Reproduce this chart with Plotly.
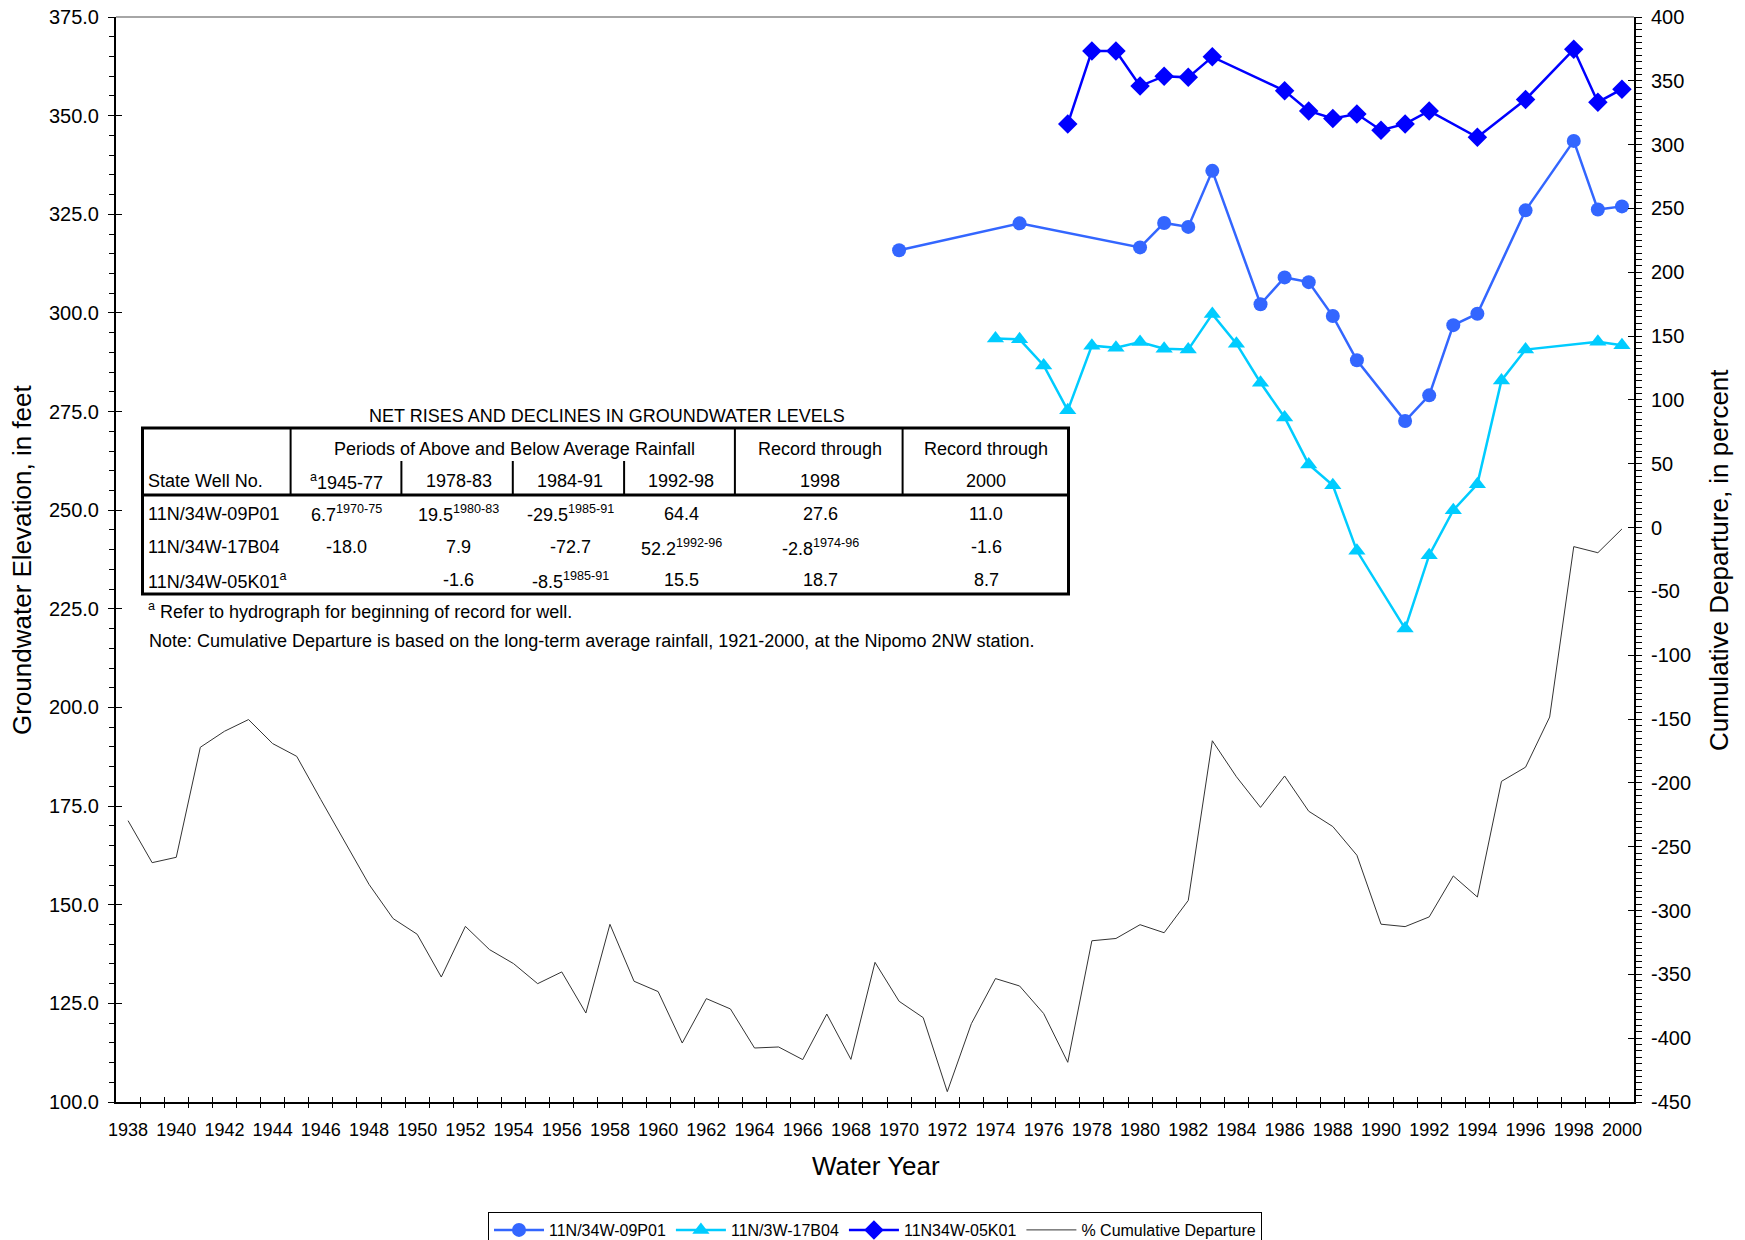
import plotly.graph_objects as go

# ---------------- data ----------------
years_cd = list(range(1938, 2001))
cum_departure = [-229.6, -262.5, -258.3, -172.1, -159.6, -150.4, -169.2, -179.2, -213.1, -246.3,
                 -279.5, -306.3, -318.6, -352.1, -312.4, -330.6, -341.6, -357.3, -348.1, -380.3,
                 -310.8, -355.4, -363.5, -403.8, -369.0, -377.1, -407.7, -406.9, -416.8, -381.1,
                 -416.6, -340.6, -371.1, -383.9, -441.9, -388.6, -353.3, -359.1, -380.7, -418.9,
                 -323.7, -321.9, -311.1, -317.4, -292.1, -167.0, -195.2, -219.2, -194.6, -222.2,
                 -234.2, -256.7, -310.7, -312.6, -305.0, -272.9, -289.4, -198.8, -187.7, -148.4,
                 -14.9, -19.7, -1.1]

x_09P01 = [1970, 1975, 1980, 1981, 1982, 1983, 1985, 1986, 1987, 1988, 1989, 1991, 1992, 1993,
           1994, 1996, 1998, 1999, 2000]
y_09P01 = [315.9, 322.7, 316.6, 322.8, 321.8, 336.0, 302.2, 309.0, 307.8, 299.2, 288.0, 272.6,
           279.1, 296.9, 299.8, 326.0, 343.6, 326.2, 327.0]

x_17B04 = [1974, 1975, 1976, 1977, 1978, 1979, 1980, 1981, 1982, 1983, 1984, 1985, 1986, 1987,
           1988, 1989, 1991, 1992, 1993, 1994, 1995, 1996, 1999, 2000]
y_17B04 = [293.5, 293.3, 286.7, 275.3, 291.7, 291.2, 292.6, 290.9, 290.7, 299.7, 292.2, 282.3,
           273.5, 261.6, 256.3, 239.7, 220.0, 238.6, 250.0, 256.6, 282.9, 290.7, 292.7, 291.8]

x_05K01 = [1977, 1978, 1979, 1980, 1981, 1982, 1983, 1986, 1987, 1988, 1989, 1990, 1991, 1992,
           1994, 1996, 1998, 1999, 2000]
y_05K01 = [347.9, 366.4, 366.4, 357.5, 360.0, 359.7, 364.9, 356.3, 351.2, 349.3, 350.4, 346.3,
           347.9, 351.2, 344.5, 354.1, 366.8, 353.4, 356.7]

series_names = ["11N/34W-09P01", "11N/3W-17B04", "11N34W-05K01", "% Cumulative Departure"]

x_label_years = list(range(1938, 2001, 2))
left_ticks = list(range(100, 376, 25))
right_ticks = list(range(-450, 401, 50))

table_title = "NET RISES AND DECLINES IN GROUNDWATER LEVELS"
table_period_header = "Periods of Above and Below Average Rainfall"
table_col_labels = ["<sup>a</sup>1945-77", "1978-83", "1984-91", "1992-98", "1998", "2000"]
table_row_labels = ["11N/34W-09P01", "11N/34W-17B04", "11N/34W-05K01<sup>a</sup>"]
table_values = [
    ["6.7<sup>1970-75</sup>", "19.5<sup>1980-83</sup>", "-29.5<sup>1985-91</sup>", "64.4", "27.6", "11.0"],
    ["-18.0", "7.9", "-72.7", "52.2<sup>1992-96</sup>", "-2.8<sup>1974-96</sup>", "-1.6"],
    ["", "-1.6", "-8.5<sup>1985-91</sup>", "15.5", "18.7", "8.7"],
]
footnote_a = "<sup>a</sup> Refer to hydrograph for beginning of record for well."
footnote_note = ("Note: Cumulative Departure is based on the long-term average rainfall, "
                 "1921-2000, at the Nipomo 2NW station.")

# ---------------- layout geometry ----------------
# The page adds an 8px body margin, so the figure is sized to fill the window exactly.
FONT = "Liberation Sans, Arial, sans-serif"
OFF = 8
W_FIG, H_FIG = 1745 - OFF, 1240 - OFF
# plot area in screen pixels
L, R, T, B = 116, 1634, 17, 1102
PW, PH = R - L, B - T


def px(x):
    return (x - L) / PW


def py(y):
    return (B - y) / PH


fig = go.Figure()

fig.add_trace(go.Scatter(x=x_09P01, y=y_09P01, name=series_names[0], mode="lines+markers",
                         line=dict(color="#3366FF", width=2.5),
                         marker=dict(symbol="circle", size=14, color="#3366FF")))
fig.add_trace(go.Scatter(x=x_17B04, y=y_17B04, name=series_names[1], mode="lines+markers",
                         line=dict(color="#00CCFF", width=2.5),
                         marker=dict(symbol="triangle-up", size=15, color="#00CCFF")))
fig.add_trace(go.Scatter(x=x_05K01, y=y_05K01, name=series_names[2], mode="lines+markers",
                         line=dict(color="#0000FF", width=2.5),
                         marker=dict(symbol="diamond", size=15, color="#0000FF")))
fig.add_trace(go.Scatter(x=years_cd, y=cum_departure, name=series_names[3], mode="lines",
                         yaxis="y2", line=dict(color="#333333", width=1)))

# dummy traces so overlay tick axes get drawn
for xa, ya in [("x2", "y"), ("x3", "y"), ("x", "y3"), ("x", "y4")]:
    fig.add_trace(go.Scatter(x=[None], y=[None], xaxis=xa, yaxis=ya, showlegend=False,
                             hoverinfo="skip"))

half_years = [y + 0.5 for y in range(1938, 2000)]
xr = [1937.5, 2000.5]

fig.update_layout(
    width=W_FIG, height=H_FIG,
    margin=dict(l=L - OFF, r=W_FIG - (R - OFF), t=T - OFF, b=H_FIG - (B - OFF),
                autoexpand=False),
    paper_bgcolor="white", plot_bgcolor="white",
    font=dict(family=FONT, color="black", size=18),
    showlegend=True,
    legend=dict(orientation="h", x=px(875), xanchor="center", y=py(1212), yanchor="top",
                bordercolor="black", borderwidth=1, bgcolor="white",
                font=dict(family=FONT, size=16), itemwidth=50, traceorder="normal"),
    xaxis=dict(range=xr, tickmode="array", tickvals=x_label_years,
               ticktext=[str(v) for v in x_label_years], ticks="", showgrid=False,
               zeroline=False, showline=True, linecolor="black", linewidth=2,
               tickfont=dict(size=18), ticklabelstandoff=10, ticklabeloverflow="allow"),
    xaxis2=dict(range=xr, overlaying="x", anchor="y", side="bottom", tickmode="array",
                tickvals=half_years, ticks="outside", ticklen=5, tickcolor="black",
                showticklabels=False, showline=False, showgrid=False, zeroline=False),
    xaxis3=dict(range=xr, overlaying="x", anchor="y", side="bottom", tickmode="array",
                tickvals=half_years, ticks="inside", ticklen=5, tickcolor="black",
                showticklabels=False, showline=False, showgrid=False, zeroline=False),
    yaxis=dict(range=[100, 375], tickmode="array", tickvals=left_ticks,
               ticktext=[f"{v:.1f}" for v in left_ticks], ticks="outside", ticklen=6,
               tickcolor="black", minor=dict(dtick=5, tick0=100, ticks="outside", ticklen=5,
                                             tickcolor="black"),
               showgrid=False, zeroline=False, showline=True, linecolor="black", linewidth=2,
               tickfont=dict(size=20), ticklabelstandoff=5, ticklabeloverflow="allow"),
    yaxis3=dict(range=[100, 375], overlaying="y", anchor="x", side="left", tickmode="array",
                tickvals=left_ticks, ticks="inside", ticklen=6, tickcolor="black",
                showticklabels=False, showline=False, showgrid=False, zeroline=False),
    yaxis2=dict(range=[-450, 400], overlaying="y", anchor="x", side="right", tickmode="array",
                tickvals=right_ticks, ticktext=[str(v) for v in right_ticks], ticks="outside",
                ticklen=6, tickcolor="black",
                minor=dict(dtick=5, tick0=-450, ticks="outside", ticklen=6, tickcolor="black"),
                showgrid=False, zeroline=False, showline=True, linecolor="black", linewidth=2,
                tickfont=dict(size=20), ticklabelstandoff=5, ticklabeloverflow="allow"),
    yaxis4=dict(range=[-450, 400], overlaying="y", anchor="x", side="right", tickmode="array",
                tickvals=right_ticks, ticks="inside", ticklen=6, tickcolor="black",
                showticklabels=False, showline=False, showgrid=False, zeroline=False),
)

shapes = []
# top frame line
shapes.append(dict(type="line", xref="paper", yref="paper", x0=0, x1=1, y0=1, y1=1,
                   line=dict(color="#888888", width=1.5)))
# table outline
tl, tr, tt, tb = 142.5, 1068.5, 428, 594
hdr = 495
shapes.append(dict(type="rect", xref="paper", yref="paper", x0=px(tl), x1=px(tr),
                   y0=py(tb), y1=py(tt), line=dict(color="black", width=3),
                   fillcolor="white"))
shapes.append(dict(type="line", xref="paper", yref="paper", x0=px(tl), x1=px(tr),
                   y0=py(hdr), y1=py(hdr), line=dict(color="black", width=3)))
for xv in [290.6, 734.9, 902.6]:
    shapes.append(dict(type="line", xref="paper", yref="paper", x0=px(xv), x1=px(xv),
                       y0=py(hdr), y1=py(tt), line=dict(color="black", width=2)))
for xv in [401.4, 512.8, 624.1]:
    shapes.append(dict(type="line", xref="paper", yref="paper", x0=px(xv), x1=px(xv),
                       y0=py(hdr), y1=py(461), line=dict(color="black", width=2)))
fig.update_layout(shapes=shapes)

ann = []


def text(x, y, s, size=18, xanchor="center", angle=0):
    ann.append(dict(x=px(x), y=py(y), xref="paper", yref="paper", text=s, showarrow=False,
                    xanchor=xanchor, yanchor="middle", textangle=angle,
                    font=dict(family=FONT, size=size, color="black")))


# axis titles
text(876, 1166, "Water Year", size=26)
text(22, 560, "Groundwater Elevation, in feet", size=26, angle=-90)
text(1719, 560, "Cumulative Departure, in percent", size=26, angle=-90)

# table text
text(607, 416, table_title)
text(514.7, 448.5, table_period_header)
text(820, 448.5, "Record through")
text(986, 448.5, "Record through")
text(146, 481, "State Well No.", xanchor="left")
col_centers = [346, 458.5, 570, 681, 820, 986]
for cx, lab in zip(col_centers, table_col_labels):
    text(cx, 481, lab)
row_ys = [513.5, 547, 580.5]
for ry, lab, vals in zip(row_ys, table_row_labels, table_values):
    text(146, ry, lab, xanchor="left")
    for cx, v in zip(col_centers, vals):
        if v:
            text(cx, ry, v)
text(146, 611, footnote_a, xanchor="left")
text(147, 641, footnote_note, xanchor="left")

fig.update_layout(annotations=ann)

fig.write_html("out.html")
